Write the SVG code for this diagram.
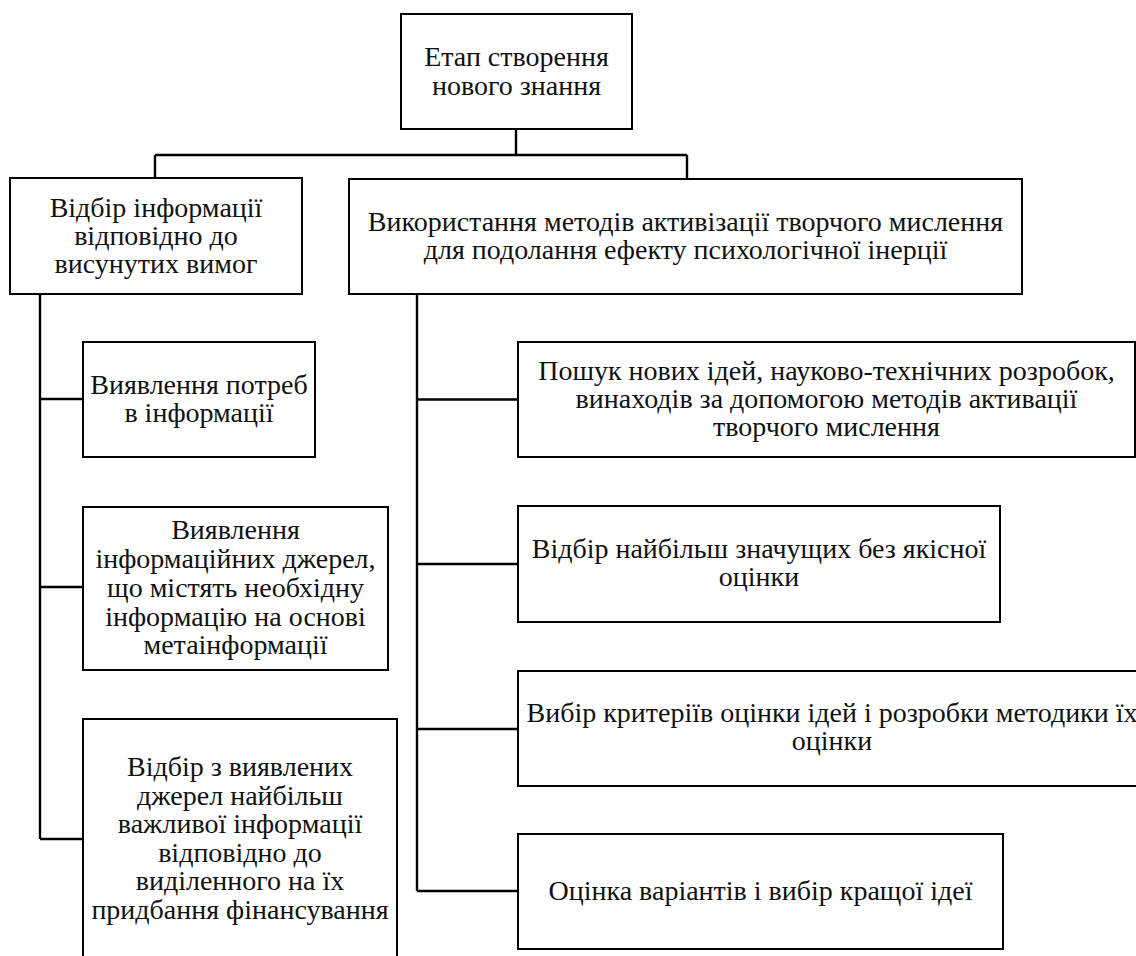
<svg xmlns="http://www.w3.org/2000/svg" width="1136" height="956" viewBox="0 0 1136 956">
  <style>
    .box { fill: #ffffff; stroke: #000000; stroke-width: 2; }
    .lbl { font-size: 28px; fill: #111111; text-anchor: middle; }
    .wire { fill: none; stroke: #000000; stroke-width: 2.4; }
  </style>
  <rect width="1136" height="956" fill="#ffffff"/>

  <!-- connectors -->
  <g id="connectors">
    <path class="wire" d="M516 129 V155 M155 155 H687 M155 155 V178 M687 155 V180"/>
    <path class="wire" d="M40 294 V839 M40 399 H83 M40 587 H83 M40 839 H83"/>
    <path class="wire" d="M417 294 V891 M417 399.5 H518 M417 564 H518 M417 729 H518 M417 891 H518"/>
  </g>

  <g id="nodes" font-family="Liberation Serif, Tinos, Times New Roman, DejaVu Serif, serif">
  <!-- root -->
  <g id="root">
    <rect class="box" x="401" y="14" width="231" height="115"/>
    <text class="lbl" x="516.5" y="66">Етап створення</text>
    <text class="lbl" x="516.5" y="95">нового знання</text>
  </g>

  <!-- left branch -->
  <g id="select-info">
    <rect class="box" x="10" y="178" width="292" height="116"/>
    <text class="lbl" x="156" y="217">Відбір інформації</text>
    <text class="lbl" x="156" y="245">відповідно до</text>
    <text class="lbl" x="156" y="273">висунутих вимог</text>
  </g>
  <g id="needs">
    <rect class="box" x="83" y="342" width="232" height="115"/>
    <text class="lbl" x="199" y="393.5">Виявлення потреб</text>
    <text class="lbl" x="199" y="422">в інформації</text>
  </g>
  <g id="sources">
    <rect class="box" x="83" y="507" width="305" height="163"/>
    <text class="lbl" x="235.5" y="539">Виявлення</text>
    <text class="lbl" x="235.5" y="568">інформаційних джерел,</text>
    <text class="lbl" x="235.5" y="597">що містять необхідну</text>
    <text class="lbl" x="235.5" y="626">інформацію на основі</text>
    <text class="lbl" x="235.5" y="654">метаінформації</text>
  </g>
  <g id="funding">
    <rect class="box" x="83" y="719" width="314" height="260"/>
    <text class="lbl" x="240" y="776">Відбір з виявлених</text>
    <text class="lbl" x="240" y="805">джерел найбільш</text>
    <text class="lbl" x="240" y="833">важливої інформації</text>
    <text class="lbl" x="240" y="862">відповідно до</text>
    <text class="lbl" x="240" y="890">виділенного на їх</text>
    <text class="lbl" x="240" y="919">придбання фінансування</text>
  </g>

  <!-- right branch -->
  <g id="creative-methods">
    <rect class="box" x="349" y="179" width="673" height="115"/>
    <text class="lbl" x="685.5" y="230.5">Використання методів активізації творчого мислення</text>
    <text class="lbl" x="685.5" y="258.5">для подолання ефекту психологічної інерції</text>
  </g>
  <g id="idea-search">
    <rect class="box" x="518" y="342" width="617" height="115"/>
    <text class="lbl" x="826.5" y="380">Пошук нових ідей, науково-технічних розробок,</text>
    <text class="lbl" x="826.5" y="408">винаходів за допомогою методів активації</text>
    <text class="lbl" x="826.5" y="436">творчого мислення</text>
  </g>
  <g id="significant">
    <rect class="box" x="518" y="506" width="482" height="116"/>
    <text class="lbl" x="759" y="558">Відбір найбільш значущих без якісної</text>
    <text class="lbl" x="759" y="586">оцінки</text>
  </g>
  <g id="criteria">
    <rect class="box" x="518" y="671" width="628" height="115"/>
    <text class="lbl" x="832" y="722">Вибір критеріїв оцінки ідей і розробки методики їх</text>
    <text class="lbl" x="832" y="750">оцінки</text>
  </g>
  <g id="best-idea">
    <rect class="box" x="518" y="834" width="485" height="115"/>
    <text class="lbl" x="760.5" y="900">Оцінка варіантів і вибір кращої ідеї</text>
  </g>
  </g>
</svg>
